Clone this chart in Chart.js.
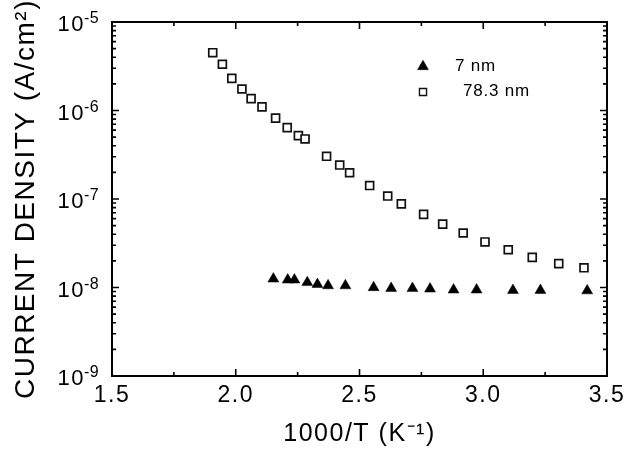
<!DOCTYPE html>
<html><head><meta charset="utf-8">
<script src="https://cdn.jsdelivr.net/npm/chart.js@4.4.0/dist/chart.umd.min.js"></script>
<style>html,body{margin:0;padding:0;background:#fff;} #wrap{width:630px;height:454px;position:relative;}</style>
</head><body><div id="wrap"><canvas id="c" width="630" height="454"></canvas></div>
<script>
// ---- data ----
const xTickValues = [1.5, 2.0, 2.5, 3.0, 3.5];
const xTickLabels = ['1.5', '2.0', '2.5', '3.0', '3.5'];
const xMinorValues = [1.75, 2.25, 2.75, 3.25];
const yTickValues = [1e-9, 1e-8, 1e-7, 1e-6, 1e-5];
const yTickBase = ['10', '10', '10', '10', '10'];
const yTickExp = ['-9', '-8', '-7', '-6', '-5'];
const seriesNames = ['7 nm', '78.3 nm'];

const x7nm = [2.152, 2.210, 2.237, 2.289, 2.330, 2.373, 2.443, 2.557, 2.628, 2.714, 2.785, 2.880, 2.973, 3.120, 3.231, 3.420];
const y7nm = [1.25e-8, 1.22e-8, 1.22e-8, 1.14e-8, 1.085e-8, 1.05e-8, 1.05e-8, 1.0e-8, 0.98e-8, 0.98e-8, 0.965e-8, 0.94e-8, 0.94e-8, 0.93e-8, 0.93e-8, 0.92e-8];

const x78nm = [1.907, 1.946, 1.984, 2.025, 2.062, 2.106, 2.161, 2.208, 2.253, 2.280, 2.367, 2.420, 2.460, 2.541, 2.614, 2.669, 2.759, 2.836, 2.919, 3.007, 3.101, 3.198, 3.305, 3.407];
const y78nm = [4.5e-6, 3.33e-6, 2.31e-6, 1.75e-6, 1.36e-6, 1.10e-6, 8.2e-7, 6.4e-7, 5.2e-7, 4.77e-7, 3.04e-7, 2.42e-7, 1.98e-7, 1.42e-7, 1.08e-7, 8.8e-8, 6.7e-8, 5.2e-8, 4.13e-8, 3.27e-8, 2.67e-8, 2.19e-8, 1.86e-8, 1.67e-8];

const FONT = '"Liberation Sans", Arial, Helvetica, sans-serif';
const SPACING = '1.5px';

const pts = (xs, ys) => xs.map((x, i) => ({x: x, y: ys[i]}));

// wider letter spacing for all text, like the reference lettering
const spacingPlugin = {
  id: 'spacing',
  beforeDraw(chart) { chart.ctx.letterSpacing = SPACING; }
};
const resetPlugin = {
  id: 'spacingReset',
  afterDraw(chart) { chart.ctx.letterSpacing = '0px'; }
};

// frame + inward ticks
const framePlugin = {
  id: 'frame',
  afterDraw(chart) {
    const {ctx, chartArea: a, scales: {x, y}} = chart;
    ctx.save();
    ctx.strokeStyle = '#000';
    ctx.lineWidth = 1.6;
    ctx.beginPath();
    const tick = (px, len, horiz) => {
      if (horiz) {
        ctx.moveTo(px, a.bottom); ctx.lineTo(px, a.bottom - len);
        ctx.moveTo(px, a.top); ctx.lineTo(px, a.top + len);
      } else {
        ctx.moveTo(a.left, px); ctx.lineTo(a.left + len, px);
        ctx.moveTo(a.right, px); ctx.lineTo(a.right - len, px);
      }
    };
    xTickValues.forEach(v => tick(x.getPixelForValue(v), 7, true));
    xMinorValues.forEach(v => tick(x.getPixelForValue(v), 4, true));
    yTickValues.forEach((v, i) => {
      tick(y.getPixelForValue(v), 7, false);
      if (i < yTickValues.length - 1) {
        for (let k = 2; k <= 9; k++) tick(y.getPixelForValue(v * k), 4, false);
      }
    });
    ctx.stroke();
    ctx.lineWidth = 2;
    ctx.strokeRect(a.left, a.top, a.right - a.left, a.bottom - a.top);
    ctx.restore();
  }
};

// exponents of the y tick labels
const expPlugin = {
  id: 'exps',
  afterDraw(chart, args, opts) {
    const {ctx, scales: {y}} = chart;
    ctx.save();
    ctx.font = opts.size + 'px ' + FONT;
    ctx.fillStyle = '#000';
    ctx.textAlign = 'left';
    ctx.textBaseline = 'middle';
    ctx.letterSpacing = '0.5px';
    yTickValues.forEach((v, i) => {
      ctx.fillText(yTickExp[i], opts.x, y.getPixelForValue(v) + opts.dy);
    });
    ctx.restore();
  }
};

// legend inside plot
const legendPlugin = {
  id: 'inlegend',
  afterDraw(chart, args, opts) {
    const ctx = chart.ctx;
    ctx.save();
    ctx.font = opts.size + 'px ' + FONT;
    ctx.textBaseline = 'middle';
    ctx.letterSpacing = '0.8px';
    opts.items.forEach((it, i) => {
      const ds = chart.data.datasets[i];
      ctx.fillStyle = ds.pointBackgroundColor;
      ctx.strokeStyle = ds.pointBorderColor;
      ctx.lineWidth = it.bw;
      Chart.helpers.drawPoint(ctx, {pointStyle: ds.pointStyle, radius: it.r, borderWidth: it.bw, rotation: 0}, it.mx, it.my);
      ctx.fillStyle = '#000';
      ctx.fillText(ds.label, it.tx, it.ty);
    });
    ctx.restore();
  }
};

new Chart(document.getElementById('c'), {
  type: 'scatter',
  data: {
    datasets: [
      {
        label: seriesNames[0],
        data: pts(x7nm, y7nm),
        pointStyle: 'triangle',
        pointRadius: 6.3,
        pointBackgroundColor: '#000',
        pointBorderColor: '#000',
        pointBorderWidth: 0.5,
        showLine: false
      },
      {
        label: seriesNames[1],
        data: pts(x78nm, y78nm),
        pointStyle: 'rect',
        pointRadius: 5.6,
        pointBackgroundColor: '#fff',
        pointBorderColor: '#111',
        pointBorderWidth: 1.7,
        showLine: false
      }
    ]
  },
  options: {
    responsive: false,
    animation: false,
    events: [],
    layout: {padding: {top: 22, right: 23, left: 0, bottom: 0}},
    plugins: {
      legend: {display: false},
      tooltip: {enabled: false},
      exps: {x: 84, dy: -3, size: 16},
      inlegend: {size: 17, items: [
        {mx: 423, my: 66.5, r: 6.3, bw: 0.5, tx: 455, ty: 66},
        {mx: 423, my: 92, r: 5, bw: 1.4, tx: 463, ty: 91}
      ]}
    },
    scales: {
      x: {
        type: 'linear', min: 1.5, max: 3.5,
        afterBuildTicks: s => { s.ticks = xTickValues.map(v => ({value: v})); },
        afterFit: s => { s.height = 78; s.paddingLeft = 0; s.paddingRight = 0; },
        grid: {display: false, drawTicks: false},
        border: {display: false},
        ticks: {
          color: '#000', padding: 6, maxRotation: 0, autoSkip: false,
          font: {family: FONT, size: 23},
          callback: (v) => { const i = xTickValues.indexOf(v); return i >= 0 ? xTickLabels[i] : ''; }
        },
        title: {display: true, text: '1000/T (K\u207B\u00B9)', color: '#000',
          font: {family: FONT, size: 25}, padding: {top: 0, bottom: 5}}
      },
      y: {
        type: 'logarithmic', min: 1e-9, max: 1e-5,
        afterBuildTicks: s => { s.ticks = yTickValues.map(v => ({value: v})); },
        afterFit: s => { s.width = 112; s.paddingTop = 0; s.paddingBottom = 0; },
        grid: {display: false, drawTicks: false},
        border: {display: false},
        ticks: {
          color: '#000', padding: 27, autoSkip: false, labelOffset: 3,
          font: {family: FONT, size: 22},
          callback: (v) => { const i = yTickValues.findIndex(t => Math.abs(t - v) / t < 1e-6); return i >= 0 ? yTickBase[i] : ''; }
        },
        title: {display: true, text: 'CURRENT DENSITY (A/cm\u00B2)', color: '#000',
          font: {family: FONT, size: 28}, padding: {top: 9, bottom: 0}}
      }
    }
  },
  plugins: [spacingPlugin, framePlugin, expPlugin, legendPlugin, resetPlugin]
});
</script>
</body></html>
